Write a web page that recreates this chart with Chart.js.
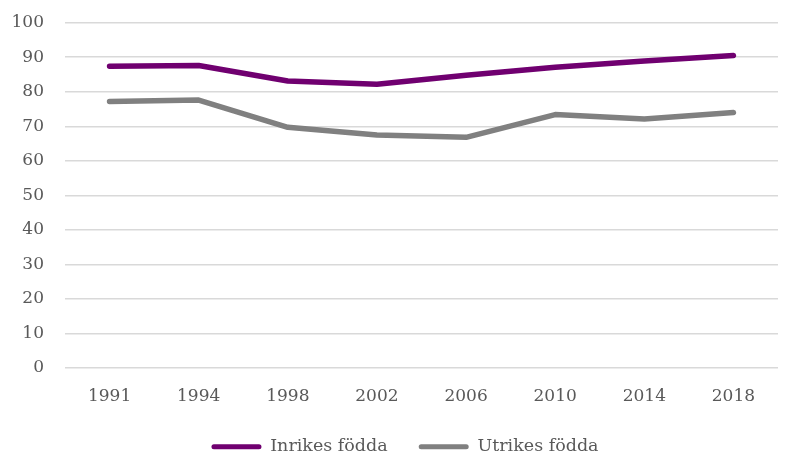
<!DOCTYPE html>
<html>
<head>
<meta charset="utf-8">
<script src="https://cdn.jsdelivr.net/npm/chart.js@4.4.1/dist/chart.umd.min.js"></script>
<style>
  html, body { margin: 0; padding: 0; background: #fff; }
  #wrap { width: 790px; height: 456px; }
</style>
</head>
<body>
<div id="wrap"><canvas id="graphicmap"></canvas></div>
<script>
// data
const years = ['1991', '1994', '1998', '2002', '2006', '2010', '2014', '2018']
const inrikes = [87.4, 87.6, 83.1, 82.2, 84.8, 87.1, 88.9, 90.5]
const utrikes = [77.2, 77.6, 69.7, 67.5, 66.8, 73.4, 72.1, 74.0]
const yTicks = [0, 10, 20, 30, 40, 50, 60, 70, 80, 90, 100]

const serif = 'DejaVu Serif'
Chart.defaults.font.family = serif
Chart.defaults.color = '#595959'

// legend sits a bit right of centre in the original
const nudgeLegend = {
    id: 'nudgeLegend',
    afterLayout: (chart) => {
        chart.legend.left += 11
        chart.legend.right += 11
    }
}

const data = {
    labels: years,
    datasets: [{
        label: 'Inrikes födda',
        data: inrikes,
        borderColor: '#700070',
        backgroundColor: '#700070',
        borderWidth: 5.5
    }, {
        label: 'Utrikes födda',
        data: utrikes,
        borderColor: '#808080',
        backgroundColor: '#808080',
        borderWidth: 5.5
    }]
}

const config = {
    type: 'line',
    data: data,
    plugins: [nudgeLegend],
    options: {
        responsive: true,
        maintainAspectRatio: false,
        animation: false,
        layout: { padding: { top: 22.7, right: 12, left: 10, bottom: -9.5 } },
        elements: {
            point: { radius: 0 },
            line: { tension: 0, borderCapStyle: 'round', borderJoinStyle: 'round' }
        },
        plugins: {
            legend: {
                position: 'bottom',
                labels: {
                    boxWidth: 50,
                    boxHeight: 5,
                    useBorderRadius: true,
                    borderRadius: 2.5,
                    padding: 31,
                    font: { size: 17.5, family: serif },
                    color: '#595959',
                    generateLabels: (chart) => {
                        const items = Chart.defaults.plugins.legend.labels.generateLabels(chart)
                        items.forEach((item) => { item.lineWidth = 0 })
                        return items
                    }
                }
            },
            tooltip: { enabled: false }
        },
        scales: {
            x: {
                offset: true,
                grid: { display: false, drawTicks: false },
                border: { display: false },
                ticks: { padding: 18, font: { size: 17 } },
                afterFit: (axis) => { axis.height = 39 }
            },
            y: {
                min: 0,
                max: 100,
                afterBuildTicks: (axis) => {
                    axis.ticks = yTicks.map((v) => ({ value: v }))
                },
                afterFit: (axis) => {
                    axis.width = 55
                    axis.paddingTop = 0
                    axis.paddingBottom = 0
                },
                grid: { color: '#d9d9d9', lineWidth: 1.5, drawTicks: false },
                border: { display: false },
                ticks: { padding: 21, font: { size: 17 } }
            }
        }
    }
}

document.addEventListener('DOMContentLoaded', (event) => {
    new Chart(document.querySelector('#graphicmap'), config)
})
</script>
</body>
</html>
